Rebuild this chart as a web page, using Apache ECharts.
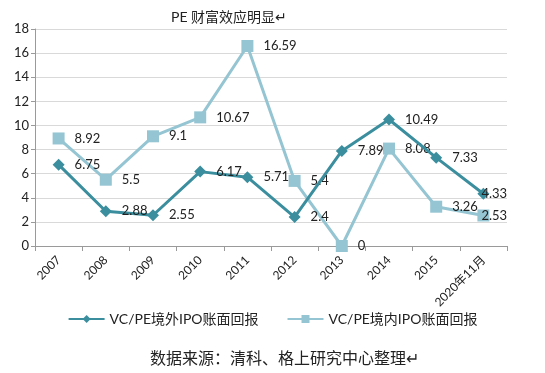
<!DOCTYPE html>
<html><head><meta charset="utf-8">
<script src="https://cdn.jsdelivr.net/npm/echarts@6/dist/echarts.min.js"></script>
<style>html,body{margin:0;padding:0;background:#fff}#c{width:545px;height:373px}</style>
</head><body><div id="c"></div>
<script>
const categories = ['2007','2008','2009','2010','2011','2012','2013','2014','2015','2020年11月'];
const overseasIPO = [6.75, 2.88, 2.55, 6.17, 5.71, 2.4, 7.89, 10.49, 7.33, 4.33];
const domesticIPO = [8.92, 5.5, 9.1, 10.67, 16.59, 5.4, 0, 8.08, 3.26, 2.53];
const seriesNames = ['VC/PE境外IPO账面回报', 'VC/PE境内IPO账面回报'];
const yTicks = [0, 2, 4, 6, 8, 10, 12, 14, 16, 18];

const FONT = 'Lato, "Noto Sans CJK SC", sans-serif';
const chart = echarts.init(document.getElementById('c'), null, {renderer: 'canvas'});
const lbl = {show: true, position: 'right', distance: 10, color: '#222', fontSize: 13, fontFamily: FONT};
// last point's label sits over the marker (squeezed by the right edge)
function withLastLabel(arr) {
  return arr.map((v, i) => i === arr.length - 1 ? {value: v, label: {distance: -8}} : v);
}
chart.setOption({
  animation: false,
  backgroundColor: '#fff',
  title: {
    text: 'PE 财富效应明显↵', left: 166, top: 5,
    textStyle: {fontSize: 14, fontWeight: 'normal', color: '#222', fontFamily: FONT}
  },
  grid: {left: 35, right: 38, top: 29, bottom: 127},
  legend: {
    bottom: 42, left: 'center', itemGap: 28, itemWidth: 36, itemHeight: 10,
    textStyle: {fontSize: 14, color: '#222', fontFamily: FONT},
    data: seriesNames
  },
  xAxis: {
    type: 'category', data: categories, boundaryGap: true,
    axisLine: {lineStyle: {color: '#9a9a9a', width: 1}},
    axisTick: {show: true, length: 5, lineStyle: {color: '#9a9a9a'}},
    axisLabel: {rotate: 45, fontSize: 12, color: '#222', fontFamily: FONT, margin: 12}
  },
  yAxis: {
    type: 'value', min: yTicks[0], max: yTicks[yTicks.length - 1], interval: 2,
    axisLine: {show: true, lineStyle: {color: '#9a9a9a'}},
    axisTick: {show: true, length: 4, lineStyle: {color: '#9a9a9a'}},
    splitLine: {lineStyle: {color: '#d9d9d9'}},
    axisLabel: {fontSize: 13, color: '#222', fontFamily: FONT, margin: 6}
  },
  series: [
    {
      name: seriesNames[1], type: 'line', data: withLastLabel(domesticIPO),
      symbol: 'rect', symbolSize: 12, z: 2,
      lineStyle: {color: '#95c5d2', width: 3},
      itemStyle: {color: '#95c5d2'},
      label: lbl
    },
    {
      name: seriesNames[0], type: 'line', data: withLastLabel(overseasIPO),
      symbol: 'diamond', symbolSize: 12, z: 3,
      lineStyle: {color: '#3b8e9e', width: 3},
      itemStyle: {color: '#3b8e9e'},
      label: lbl
    }
  ],
  graphic: [{
    type: 'text', left: 150, top: 351,
    style: {text: '数据来源：清科、格上研究中心整理↵', fontSize: 16, fill: '#222', fontFamily: FONT}
  }]
});
</script></body></html>
